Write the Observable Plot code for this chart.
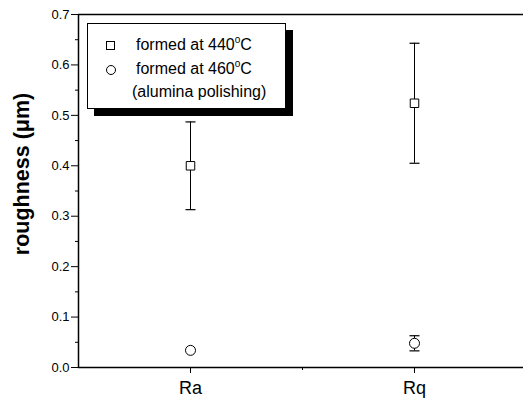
<!DOCTYPE html>
<html>
<head>
<meta charset="utf-8">
<script src="https://cdn.jsdelivr.net/npm/d3@7"></script>
<script src="https://cdn.jsdelivr.net/npm/@observablehq/plot@0.6"></script>
<style>
  body { margin: 0; background: #fff; overflow: hidden; }
  #wrap { position: relative; width: 523px; height: 401px; overflow: hidden; font-family: Arial, "Liberation Sans", sans-serif; }
  #wrap svg { max-width: none; }
  #legend {
    position: absolute; left: 87px; top: 23px; width: 199px; height: 86px;
    border: 1.5px solid #000; background: #fff; box-shadow: 7px 7px 0 #000;
    font-size: 16px; color: #000; box-sizing: border-box;
  }
  .row { position: absolute; left: 0; white-space: nowrap; line-height: 18px; }
  .sym { position: absolute; left: 18px; }
  .txt { position: absolute; left: 48px; }
  sup { font-size: 10px; vertical-align: 0; position: relative; top: -7px; }
</style>
</head>
<body>
<div id="wrap"></div>
<script>
const categories = ["Ra", "Rq"];
const values440 = [0.40, 0.524];
const errors440 = [0.087, 0.119];
const values460 = [0.034, 0.048];
const errors460 = [0, 0.015];
const yTicks = [0, 0.1, 0.2, 0.3, 0.4, 0.5, 0.6, 0.7];
const yMinorTicks = [0.05, 0.15, 0.25, 0.35, 0.45, 0.55, 0.65];
const xMinorTicks = [1.5];
const legendLabels = ["formed at 440", "formed at 460", "(alumina polishing)"];

const d440 = categories.map((c, i) => ({cat: c, x: i + 1, y: values440[i], e: errors440[i]}));
const d460 = categories.map((c, i) => ({cat: c, x: i + 1, y: values460[i], e: errors460[i]}));
const bars = [...d440, ...d460].filter(d => d.e > 0);

const capSymbol = { draw(ctx) { ctx.moveTo(-5, 0); ctx.lineTo(5, 0); } };

const chart = Plot.plot({
  width: 530,
  height: 401,
  marginLeft: 78,
  marginRight: 4,
  marginTop: 14,
  marginBottom: 34,
  style: { fontFamily: "Arial, 'Liberation Sans', sans-serif", color: "#000", background: "#fff" },
  x: { domain: [0.5, 2.5] },
  y: { domain: [0, 0.7] },
  marks: [
    Plot.axisY({ ticks: yTicks, tickSize: 7, tickPadding: 2, tickFormat: d3.format(".1f"), fontSize: 13, label: null }),
    Plot.axisY({ ticks: yMinorTicks, tickSize: 3, tickFormat: () => "", label: null }),
    Plot.text(["roughness (\u03bcm)"], { frameAnchor: "left", textAnchor: "middle", rotate: -90, dx: -56, dy: -17, fontSize: 21.5, fontWeight: "bold", fill: "#000" }),
    Plot.axisX({ ticks: [1, 2], tickSize: 6, tickPadding: 8, tickFormat: i => categories[i - 1], fontSize: 18, label: null }),
    Plot.axisX({ ticks: xMinorTicks, tickSize: 3, tickFormat: () => "", label: null }),
    Plot.ruleX([0.5], { stroke: "#000", strokeWidth: 1.5 }),
    Plot.ruleY([0], { stroke: "#000", strokeWidth: 1.5 }),
    Plot.ruleY([0.7], { stroke: "#000", strokeWidth: 1.5 }),
    Plot.ruleX(bars, { x: "x", y1: d => d.y - d.e, y2: d => d.y + d.e, stroke: "#000" }),
    Plot.dot(bars, { x: "x", y: d => d.y + d.e, symbol: capSymbol, stroke: "#000", fill: "none", strokeWidth: 1.2 }),
    Plot.dot(bars, { x: "x", y: d => d.y - d.e, symbol: capSymbol, stroke: "#000", fill: "none", strokeWidth: 1.2 }),
    Plot.dot(d440, { x: "x", y: "y", symbol: "square", r: 4.8, fill: "#fff", stroke: "#000", strokeWidth: 1 }),
    Plot.dot(d460, { x: "x", y: "y", symbol: "circle", r: 5, fill: "#fff", stroke: "#000", strokeWidth: 1 })
  ]
});

const wrap = document.getElementById("wrap");
wrap.appendChild(chart);

const legend = document.createElement("div");
legend.id = "legend";
legend.innerHTML = `
  <div class="row" style="top:12px"><span class="sym" style="top:5px;width:7px;height:7px;border:1px solid #000;display:inline-block"></span><span class="txt">${legendLabels[0]}<sup>o</sup>C</span></div>
  <div class="row" style="top:36px"><span class="sym" style="top:5px;width:8px;height:8px;border:1px solid #000;border-radius:50%;display:inline-block"></span><span class="txt">${legendLabels[1]}<sup>o</sup>C</span></div>
  <div class="row" style="top:59px"><span class="txt" style="left:44px">${legendLabels[2]}</span></div>`;
wrap.appendChild(legend);
</script>
</body>
</html>
